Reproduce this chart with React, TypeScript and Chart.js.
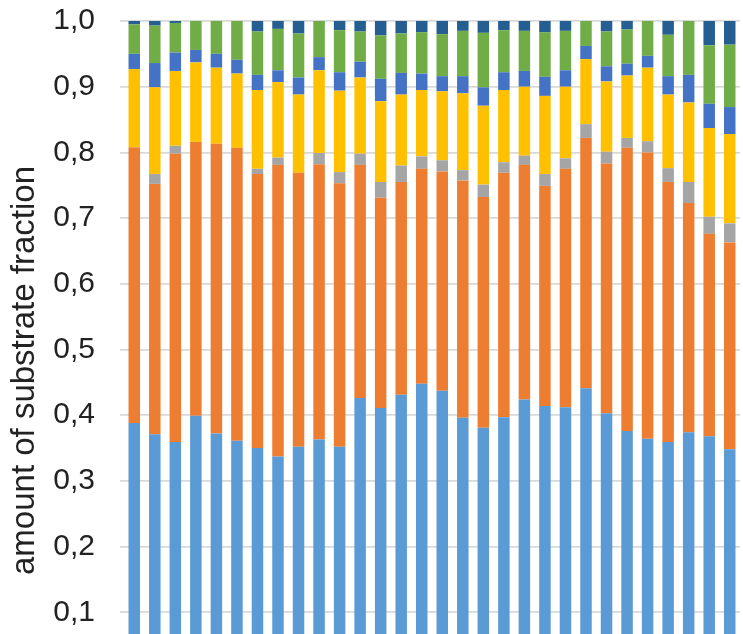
import React, { useEffect, useRef } from "react";
import { Chart, registerables } from "chart.js";

Chart.register(...registerables);

const CATEGORIES = Array.from({ length: 30 }, (_, i) => String(i + 1));

const FRACTION_1 = [0.388, 0.371, 0.359, 0.399, 0.372, 0.361, 0.350, 0.337, 0.352, 0.363, 0.352, 0.426, 0.411, 0.431, 0.448, 0.437, 0.396, 0.381, 0.397, 0.424, 0.414, 0.412, 0.441, 0.403, 0.376, 0.364, 0.359, 0.374, 0.368, 0.348];
const FRACTION_2 = [0.420, 0.381, 0.439, 0.417, 0.441, 0.446, 0.417, 0.444, 0.417, 0.419, 0.401, 0.355, 0.320, 0.324, 0.327, 0.334, 0.361, 0.351, 0.372, 0.357, 0.335, 0.363, 0.381, 0.380, 0.431, 0.436, 0.396, 0.349, 0.308, 0.315];
const FRACTION_3 = [0.000, 0.015, 0.012, 0.000, 0.000, 0.000, 0.008, 0.011, 0.000, 0.017, 0.017, 0.017, 0.024, 0.025, 0.019, 0.017, 0.016, 0.019, 0.016, 0.014, 0.018, 0.016, 0.021, 0.018, 0.015, 0.017, 0.021, 0.032, 0.026, 0.029];
const FRACTION_4 = [0.119, 0.132, 0.114, 0.121, 0.116, 0.113, 0.120, 0.115, 0.119, 0.126, 0.124, 0.116, 0.123, 0.108, 0.101, 0.105, 0.117, 0.120, 0.110, 0.105, 0.119, 0.109, 0.099, 0.107, 0.095, 0.112, 0.112, 0.121, 0.135, 0.136];
const FRACTION_5 = [0.023, 0.037, 0.028, 0.019, 0.021, 0.021, 0.023, 0.018, 0.026, 0.020, 0.028, 0.024, 0.034, 0.033, 0.025, 0.023, 0.026, 0.028, 0.027, 0.024, 0.029, 0.025, 0.020, 0.023, 0.018, 0.018, 0.028, 0.042, 0.037, 0.041];
const FRACTION_6 = [0.045, 0.057, 0.045, 0.044, 0.050, 0.059, 0.066, 0.063, 0.067, 0.055, 0.064, 0.046, 0.066, 0.060, 0.063, 0.064, 0.069, 0.083, 0.064, 0.061, 0.068, 0.060, 0.038, 0.053, 0.052, 0.053, 0.063, 0.082, 0.089, 0.095];
const FRACTION_7 = [0.005, 0.007, 0.003, 0.000, 0.000, 0.000, 0.016, 0.012, 0.019, 0.000, 0.014, 0.016, 0.022, 0.019, 0.017, 0.020, 0.015, 0.018, 0.014, 0.015, 0.017, 0.015, 0.000, 0.016, 0.013, 0.000, 0.021, 0.000, 0.037, 0.036];

const SERIES_NAMES = ["Fraction 1", "Fraction 2", "Fraction 3", "Fraction 4", "Fraction 5", "Fraction 6", "Fraction 7"];
const SERIES_COLORS = ["#5B9BD5", "#ED7D31", "#A5A5A5", "#FFC000", "#4472C4", "#70AD47", "#255E91"];

const Y_TICKS = [0.1, 0.2, 0.3, 0.4, 0.5, 0.6, 0.7, 0.8, 0.9, 1.0];
const Y_TITLE = "amount of substrate fraction";

export default function App() {
  const canvasRef = useRef<HTMLCanvasElement | null>(null);

  useEffect(() => {
    const canvas = canvasRef.current;
    if (!canvas) return;
    const seriesValues = [FRACTION_1, FRACTION_2, FRACTION_3, FRACTION_4, FRACTION_5, FRACTION_6, FRACTION_7];
    const chart = new Chart(canvas, {
      type: "bar",
      data: {
        labels: CATEGORIES,
        datasets: seriesValues.map((vals, i) => ({
          label: SERIES_NAMES[i],
          data: vals,
          backgroundColor: SERIES_COLORS[i],
          borderWidth: 0,
          barPercentage: 0.56,
          categoryPercentage: 1.0,
          stack: "s",
        })),
      },
      options: {
        animation: false,
        responsive: false,
        maintainAspectRatio: false,
        layout: { padding: { top: 2, right: 3, bottom: 0, left: 0 } },
        plugins: { legend: { display: false }, tooltip: { enabled: false } },
        scales: {
          x: { display: false, stacked: true },
          y: {
            stacked: true,
            min: -0.064,
            max: 1.0,
            border: { display: false },
            grid: { color: "#D9D9D9", lineWidth: 1.75, tickLength: 4, drawTicks: true },
            afterBuildTicks: (scale: any) => {
              scale.ticks = Y_TICKS.map((v) => ({ value: v }));
            },
            afterFit: (scale: any) => {
              scale.width = 124;
            },
            ticks: {
              padding: 25,
              color: "#222222",
              font: { family: "'Liberation Sans', Arial, sans-serif", size: 30 },
              callback: (v: any) => Number(v).toFixed(1).replace(".", ","),
            },
            title: {
              display: true,
              text: Y_TITLE,
              color: "#222222",
              padding: { top: 5, bottom: 0 },
              font: { family: "'Liberation Sans', Arial, sans-serif", size: 33 },
            },
          },
        },
      },
    });
    return () => chart.destroy();
  }, []);

  return (
    <div style={{ position: "fixed", left: 0, top: 0, width: 743, height: 634, overflow: "hidden", background: "#fff" }}>
      <canvas
        ref={canvasRef}
        width={743}
        height={785}
        style={{ display: "block", position: "absolute", left: 0, top: -22, width: 743, height: 785 }}
      />
    </div>
  );
}
